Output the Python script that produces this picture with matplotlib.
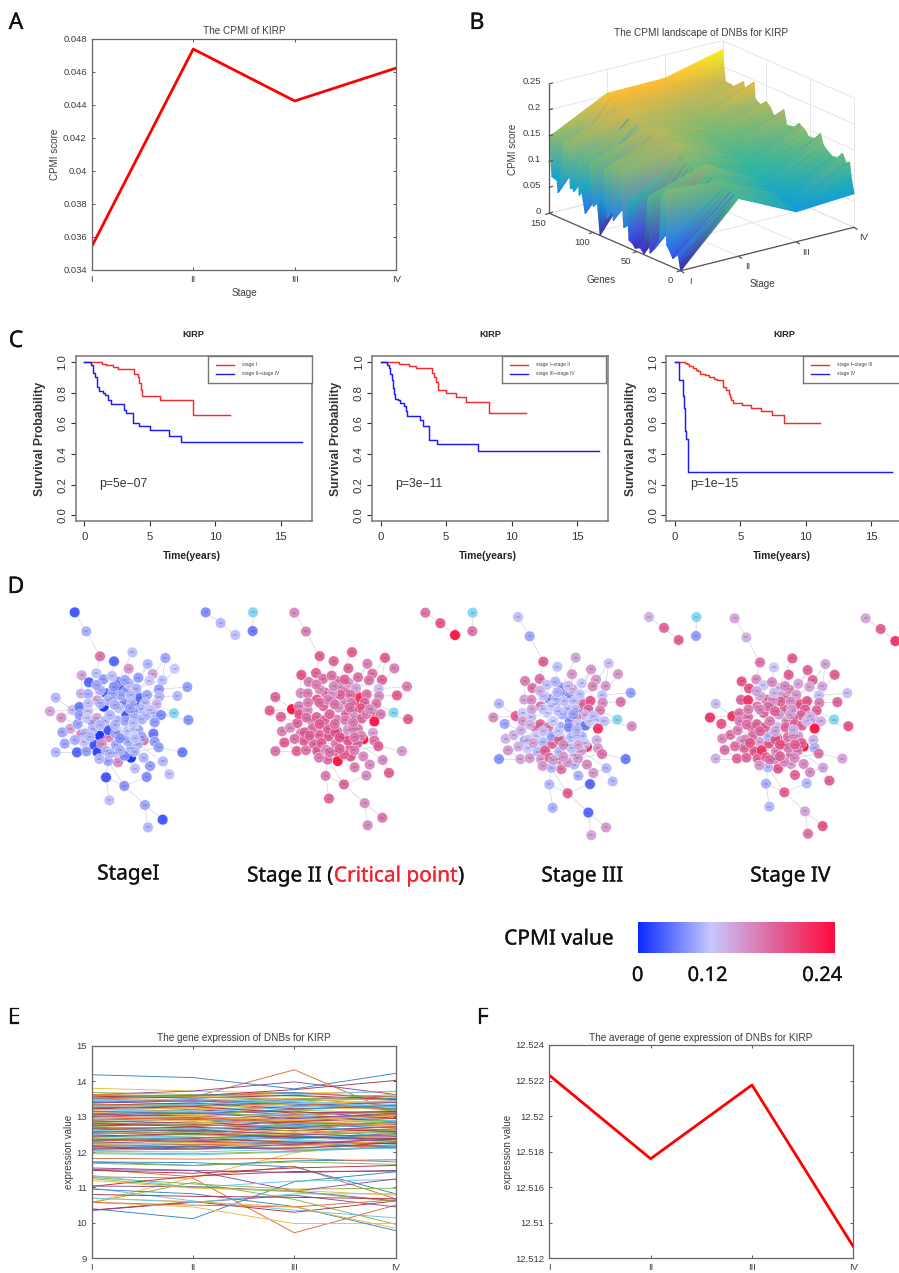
import numpy as np
import matplotlib
matplotlib.use('Agg')
import matplotlib.pyplot as plt
import matplotlib.patheffects as pe
from matplotlib.colors import LinearSegmentedColormap

W, H = 899, 1273
stage_labels = ['I', 'II', 'III', 'IV']

# panel A / F
cpmi_score = [0.0354, 0.04739, 0.04424, 0.04624]
avg_expr = [12.5223, 12.5176, 12.52175, 12.51266]
avg_ticks = [12.512, 12.514, 12.516, 12.518, 12.52, 12.522, 12.524]
avg_tick_labels = ['12.512', '12.51', '12.516', '12.518', '12.52', '12.522', '12.524']

# panel B, surface read along the gene axis
gene_pos = [0, 3, 5, 9, 13, 16, 17, 22, 24, 30, 35, 37, 38, 42, 46, 52, 55, 59, 61, 62, 65, 69, 70, 77, 79,
            80, 84, 87, 88, 92, 95, 100, 103, 105, 109, 113, 114, 116, 117, 122, 124, 126, 128, 132, 134,
            138, 140, 141, 147, 150]
land_I = [.000, .030, .025, .017, .030, .038, .143, .125, .042, .020, .008, .116, .100, .002, .010, .005, .012,
          .015, .085, .040, .035, .144, .120, .040, .146, .110, .040, .133, .060, .001, .060, .050, .131, .090,
          .030, .070, .072, .060, .128, .063, .070, .065, .148, .080, .146, .060, .047, .070, .073, .148]
land_II = [.112, .118, .115, .118, .120, .122, .131, .128, .120, .131, .118, .150, .148, .125, .130, .132, .135,
           .138, .150, .145, .145, .167, .165, .150, .165, .160, .150, .172, .165, .150, .174, .160, .172, .170,
           .160, .165, .168, .170, .172, .170, .172, .172, .185, .180, .188, .180, .182, .191, .195, .204]
land_III = [.058, .060, .062, .064, .066, .068, .070, .074, .076, .080, .084, .086, .086, .090, .094, .098, .100,
            .102, .104, .104, .108, .112, .112, .118, .120, .120, .124, .126, .126, .130, .132, .136, .140, .142,
            .146, .150, .150, .152, .153, .158, .160, .162, .164, .168, .172, .176, .180, .182, .195, .205]
land_IV = [.065, .092, .122, .118, .133, .115, .118, .120, .118, .125, .133, .145, .153, .140, .138, .137, .145,
           .150, .152, .155, .145, .142, .143, .141, .160, .168, .155, .152, .150, .149, .160, .169, .160, .158,
           .160, .166, .196, .175, .172, .170, .171, .188, .175, .172, .170, .170, .172, .172, .173, .232]
z_ticks = [0, 0.05, 0.1, 0.15, 0.2, 0.25]
z_tick_labels = ['0', '0.05', '0.1', '0.15', '0.2', '0.25']
gene_ticks = [0, 50, 100, 150]

# panel C, survival curves (time in years, survival probability)
c1_red_t = [0, 1.35, 1.65, 2.2, 2.6, 3.8, 4.1, 4.2, 4.3, 4.4, 5.75, 8.3, 11.1]
c1_red_s = [1, .99, .98, .97, .957, .92, .90, .86, .82, .78, .75, .655, .655]
c1_blue_t = [0, .5, .65, .7, .85, .95, 1.0, 1.1, 1.4, 1.6, 1.8, 2.0, 3.0, 3.2, 3.7, 4.2, 5.0, 6.5, 7.4, 16.6]
c1_blue_s = [1, .98, .97, .93, .90, .87, .84, .81, .80, .785, .75, .725, .69, .67, .60, .58, .555, .52, .48, .48]
c2_red_t = [0, 1.4, 1.7, 2.2, 2.7, 3.9, 4.1, 4.2, 4.4, 5.0, 5.72, 6.54, 8.27, 11.1]
c2_red_s = [1, .99, .985, .975, .96, .93, .90, .87, .815, .795, .77, .74, .67, .67]
c2_blue_t = [0, .5, .65, .7, .85, .95, 1.0, 1.1, 1.3, 1.5, 1.8, 1.9, 2.0, 3.0, 3.2, 3.7, 4.3, 7.4, 16.66]
c2_blue_s = [1, .98, .96, .92, .88, .83, .79, .76, .75, .73, .71, .68, .65, .62, .585, .49, .465, .42, .42]
c3_red_t = [0, .8, .9, 1.1, 1.4, 1.6, 1.8, 1.9, 2.3, 2.6, 3.0, 3.2, 3.7, 3.9, 4.1, 4.2, 4.3, 4.4, 5.1, 5.8, 6.6,
            7.4, 8.3, 11.1]
c3_red_s = [1, .995, .985, .975, .96, .95, .94, .92, .915, .905, .89, .88, .84, .82, .79, .77, .75, .73, .72, .70,
            .68, .655, .605, .605]
c3_blue_t = [0, .33, .65, .72, .78, .85, .97, 1.0, 16.6]
c3_blue_s = [1, .885, .78, .70, .55, .50, .33, .28, .28]
c_legends = [['stage I', 'stage II\u2212stage IV'], ['stage I\u2212stage II', 'stage III\u2212stage IV'],
             ['stage I\u2212stage III', 'stage IV']]
c_pvalues = ['p=5e\u221207', 'p=3e\u221211', 'p=1e\u221215']

# panel D, one row per node: x, y, CPMI at stage I, II, III, IV (-1 = the light blue node)
nodes = [
    [224, 67, .02, .17, .11, .15], [259, 124, .09, .18, .08, .14], [300, 199, .19, .21, .21, .19],
    [342, 214, .03, .20, .11, .12], [397, 187, .11, .21, .15, .21], [386, 236, .16, .20, .16, .21],
    [443, 222, .10, .18, .16, .20], [496, 204, .08, .21, .13, .15], [524, 236, .12, .18, .16, .21],
    [458, 252, .15, .19, .16, .20], [487, 271, .11, .20, .16, .15], [562, 291, .07, .18, .07, .13],
    [532, 318, .10, .21, .19, .20], [477, 298, .07, .13, .11, .11], [478, 320, .10, .17, .17, .18],
    [470, 343, .14, .19, .18, .20], [522, 370, -1, -1, -1, -1], [565, 390, .06, .21, .17, .22],
    [460, 370, .09, .18, .12, .15], [483, 375, .05, .18, .11, .14], [464, 397, .07, .24, .23, .24],
    [460, 431, .04, .15, .14, .14], [464, 455, .07, .19, .16, .09], [431, 451, .19, .24, .23, .24],
    [476, 472, .07, .21, .19, .19], [547, 487, .04, .16, .04, .15], [489, 514, .10, .17, .10, .15],
    [508, 553, .11, .21, .10, .21], [450, 528, .07, .17, .16, .17], [405, 536, .11, .18, .09, .20],
    [431, 503, .10, .17, .17, .17], [440, 561, .05, .17, .03, .10], [373, 588, .06, .20, .21, .21],
    [318, 562, .02, .18, .10, .09], [328, 631, .11, .20, .09, .10], [435, 645, .08, .17, .03, .15],
    [488, 689, .02, .19, .16, .22], [444, 712, .10, .17, .15, .19], [150, 364, .15, .21, .17, .23],
    [167, 323, .10, .20, .10, .13], [167, 487, .10, .19, .06, .14], [194, 461, .08, .21, .16, .19],
    [187, 427, .08, .18, .14, .17], [184, 383, .16, .20, .08, .22], [211, 416, .15, .17, .14, .19],
    [217, 360, .13, .24, .21, .23], [231, 487, .03, .20, .15, .20], [259, 484, .07, .19, .16, .20],
    [245, 256, .15, .22, .18, .22], [267, 277, .03, .18, .19, .22], [289, 250, .11, .20, .19, .17],
    [243, 311, .14, .17, .15, .20], [264, 312, .09, .18, .17, .23], [238, 351, .04, .18, .12, .19],
    [292, 331, .16, .22, .19, .19], [244, 433, .18, .18, .08, .16], [275, 393, .05, .18, .20, .20],
    [299, 437, .00, .20, .10, .15], [311, 350, .00, .20, .12, .20], [283, 465, .02, .20, .10, .22],
    [327, 442, .17, .22, .20, .22], [293, 487, .01, .21, .16, .20], [393, 503, .00, .22, .10, .16],
    [354, 517, .17, .24, .19, .22], [324, 513, .08, .19, .10, .10], [345, 488, .14, .20, .18, .18],
    [403, 344, .00, .24, .03, .10], [379, 375, .02, .20, .05, .17], [417, 323, .03, .23, .20, .22],
    [360, 292, .02, .19, .07, .16], [415, 263, .07, .19, .12, .15], [354, 275, .05, .18, .07, .13],
    [310, 268, .07, .19, .11, .12], [318, 310, .03, .20, .06, .19], [378, 304, .06, .18, .06, .17],
    [373, 340, .05, .17, .10, .20], [325, 420, .02, .20, .07, .10], [374, 446, .06, .20, .11, .22],
    [348, 465, .08, .18, .10, .17], [415, 420, .08, .18, .09, .16], [393, 475, .09, .20, .13, .20],
    [373, 497, .05, .21, .16, .17], [413, 463, .09, .20, .16, .18], [233, 402, .08, .20, .14, .18],
    [239, 375, .07, .22, .16, .18], [264, 363, .13, .17, .11, .19], [291, 384, .15, .20, .20, .20],
    [253, 455, .11, .21, .12, .20], [278, 418, .10, .19, .12, .19], [305, 462, .17, .21, .21, .23],
    [319, 483, .09, .17, .20, .21], [298, 507, .10, .18, .16, .16], [336, 258, .11, .19, .10, .17],
    [387, 280, .10, .16, .15, .18], [409, 296, .09, .15, .11, .16], [448, 272, .12, .19, .17, .15],
    [441, 315, .08, .19, .22, .22], [435, 340, .10, .20, .20, .21], [424, 357, .10, .22, .14, .20],
    [399, 366, .06, .22, .18, .22], [357, 355, .11, .16, .09, .16], [336, 325, .07, .17, .08, .16],
    [362, 316, .08, .20, .11, .20], [392, 316, .10, .19, .11, .17], [338, 310, .08, .16, .10, .17],
    [324, 331, .10, .18, .12, .19], [352, 392, .09, .18, .09, .13], [377, 393, .08, .18, .05, .20],
    [404, 383, .09, .16, .12, .20], [426, 388, .09, .20, .04, .20], [315, 393, .10, .20, .18, .21],
    [353, 428, .11, .20, .10, .21], [384, 422, .11, .16, .10, .19], [347, 430, .08, .22, .20, .22],
    [400, 417, .12, .18, .11, .17], [404, 485, .10, .18, .16, .17], [617, 67, .05, .19, .14, .15],
    [662, 99, .10, .22, .20, .21], [706, 135, .11, .24, .21, .23], [759, 67, -1, -1, -1, -1],
    [758, 123, .04, .19, .07, .07],
    [300, 300, .09, .17, .11, .15], [290, 285, .08, .18, .14, .15], [345, 345, .09, .19, .11, .20],
    [330, 375, .10, .20, .12, .18], [300, 405, .10, .21, .13, .20], [345, 405, .10, .19, .12, .15],
    [400, 400, .11, .18, .10, .14], [440, 375, .10, .18, .12, .13], [425, 440, .08, .17, .12, .20],
    [385, 455, .09, .21, .11, .18], [360, 445, .06, .22, .17, .22], [330, 490, .10, .19, .15, .19],
    [360, 480, .09, .20, .16, .20], [255, 430, .10, .20, .13, .17], [265, 340, .11, .18, .15, .18],
    [225, 450, .09, .19, .14, .19], [300, 340, .10, .19, .12, .17], [450, 360, .11, .17, .11, .14],
    [395, 340, .10, .18, .13, .16], [342, 290, .06, .17, .10, .13], [405, 445, .11, .19, .15, .21],
    [270, 440, .10, .21, .15, .22], [260, 385, .12, .19, .14, .19], [375, 270, .08, .20, .13, .17],
    [390, 355, .08, .19, .08, .15],
]
edge_from = [1, 2, 3, 4, 5, 6, 6, 7, 7, 8, 8, 9, 10, 11, 12, 13, 14, 15, 16, 17, 17, 18, 19, 20, 21, 22, 23, 24, 25,
             26, 27, 28, 29, 30, 31, 32, 32, 33, 33, 34, 36, 36, 34, 33, 39, 40, 41, 42, 42, 43, 44, 44, 45, 46, 47,
             48, 49, 49, 50, 51, 52, 53, 54, 54, 55, 55, 56, 56, 57, 57, 58, 58, 59, 60, 61, 61, 62, 63, 64, 64, 66,
             67, 68, 69, 70, 71, 72, 73, 74, 75, 76, 77, 78, 79, 84, 85, 86, 87, 111, 107, 108, 109, 110, 100, 67,
             99, 98, 97, 104, 103, 102, 106, 59, 105, 105, 75, 75, 94, 95, 70, 70, 72, 93, 51, 53, 52, 86, 89, 77,
             77, 112, 113, 115, 80, 112, 113, 107, 87, 84, 88, 60, 90, 90, 91, 91, 92, 66, 82, 81, 83, 31, 63, 43,
             45, 56, 88, 84, 46, 85, 86, 87, 111, 111, 101, 101, 68, 68, 108, 107, 107, 109, 110, 80, 78, 79, 79,
             114, 61, 91, 92, 66, 64, 65, 48, 48, 47, 100, 100, 99, 98, 16, 19, 19, 15, 14, 96, 71, 72, 93, 70, 74,
             106, 106, 102, 104, 103, 75, 69, 69, 117, 118, 120, 122, 122, 123, 124, 124, 125, 125, 126, 126, 127,
             127, 128, 128, 129, 129, 130, 130, 131, 131, 132, 132, 133, 133, 134, 134, 135, 135, 136, 136, 137, 137,
             138, 138, 139, 139, 140, 140, 141, 141, 142, 142, 143, 143, 144, 144, 145, 145, 146, 146]
edge_to = [2, 3, 51, 93, 72, 70, 94, 71, 95, 11, 96, 14, 96, 95, 14, 15, 97, 98, 99, 16, 20, 20, 100, 110, 110, 83, 83,
           81, 116, 25, 83, 27, 27, 82, 81, 29, 33, 34, 36, 35, 37, 38, 65, 65, 46, 46, 47, 47, 88, 45, 84, 46, 84,
           85, 48, 88, 50, 52, 73, 93, 53, 74, 85, 86, 74, 59, 88, 84, 86, 89, 89, 60, 76, 62, 58, 79, 65, 82, 65,
           66, 79, 76, 108, 104, 72, 104, 73, 74, 102, 103, 101, 111, 81, 78, 85, 86, 87, 111, 107, 108, 109, 110,
           100, 67, 99, 98, 97, 69, 103, 102, 106, 59, 101, 74, 103, 104, 94, 95, 97, 75, 73, 93, 51, 50, 55, 55,
           89, 77, 58, 112, 113, 78, 80, 113, 115, 108, 112, 89, 89, 89, 90, 61, 62, 66, 92, 65, 82, 63, 116, 116,
           116, 116, 84, 56, 58, 60, 87, 84, 87, 59, 77, 77, 59, 76, 68, 76, 109, 112, 77, 113, 115, 80, 78, 83, 90,
           112, 61, 112, 79, 62, 64, 82, 62, 60, 62, 88, 68, 109, 110, 110, 100, 110, 16, 97, 96, 95, 94, 105, 73,
           105, 59, 55, 76, 103, 76, 76, 103, 67, 98, 118, 119, 121, 74, 123, 50, 76, 101, 111, 107, 87, 77, 107,
           113, 109, 80, 19, 110, 83, 80, 78, 81, 78, 79, 66, 91, 81, 79, 88, 56, 86, 53, 45, 48, 59, 106, 16, 99,
           67, 76, 72, 122, 83, 80, 60, 89, 86, 57, 72, 94, 100, 68]
d_titles = ['StageI', 'Stage III', 'Stage IV']
cb_tick_labels = ['0', '0.12', '0.24']

# panel E, gene expression per stage, one row per gene
expr_rows = [
    [14.18, 14.10, 13.78, 14.22], [13.50, 13.55, 14.32, 13.10], [13.80, 13.72, 13.66, 13.70], [13.62, 13.72, 13.98, 13.62],
    [13.68, 13.62, 13.58, 13.45], [13.60, 13.52, 13.62, 13.72], [13.55, 13.58, 13.76, 14.02],
    [10.40, 10.12, 11.16, 11.44], [11.30, 11.26, 9.72, 10.50], [10.58, 11.28, 11.98, 12.34], [10.35, 10.58, 10.78, 10.45],
    [10.57, 11.14, 10.66, 9.96], [10.98, 10.62, 10.36, 10.14], [10.36, 10.60, 10.30, 10.62],
    [11.72, 11.70, 11.58, 10.82], [11.52, 11.30, 11.60, 10.68], [10.58, 10.45, 9.98, 9.98], [11.50, 11.48, 10.90, 10.62],
    [11.28, 11.10, 10.95, 10.98], [11.34, 11.00, 11.18, 11.22], [11.03, 11.32, 11.45, 11.46],
    [10.95, 10.82, 10.46, 9.78], [10.58, 10.50, 10.45, 10.65], [10.70, 10.60, 10.45, 9.85], [11.04, 11.02, 10.90, 11.24],
    [11.25, 11.00, 10.88, 10.60], [10.70, 10.58, 10.82, 10.82], [10.80, 10.75, 10.72, 10.68],
    [11.72, 11.62, 11.75, 11.78], [11.82, 11.80, 11.82, 11.72], [11.20, 10.98, 10.92, 10.78], [11.55, 11.48, 11.42, 11.48],
    [11.68, 11.62, 11.72, 11.65], [11.95, 11.92, 12.00, 12.15], [11.48, 11.40, 11.55, 11.62],
    [12.05, 12.08, 12.12, 12.20], [12.82, 12.75, 12.95, 13.02], [12.45, 12.40, 12.50, 12.62], [12.10, 12.18, 12.05, 12.12],
    [11.98, 11.95, 12.02, 12.18], [12.32, 12.36, 12.30, 12.42], [13.05, 13.02, 12.88, 13.00],
    [13.40, 13.48, 13.35, 13.18], [13.22, 13.15, 13.28, 13.40], [12.62, 12.72, 12.58, 12.70], [13.28, 13.20, 13.05, 13.15],
    [12.20, 12.28, 12.44, 12.38], [13.10, 13.18, 13.30, 13.42], [12.92, 12.98, 12.82, 12.78],
    [12.70, 12.62, 12.76, 12.55], [13.50, 13.42, 13.52, 13.30], [12.28, 12.22, 12.35, 12.50], [12.50, 12.58, 12.42, 12.35],
    [13.35, 13.30, 13.44, 13.52], [12.88, 12.80, 12.92, 13.08], [12.36, 12.30, 12.25, 12.36],
    [13.08, 13.12, 13.00, 12.85], [12.58, 12.52, 12.68, 12.80], [13.18, 13.25, 13.12, 13.05], [12.78, 12.85, 12.70, 12.62],
    [12.12, 12.10, 12.20, 12.28], [13.48, 13.40, 13.28, 13.45], [12.66, 12.70, 12.60, 12.72],
    [12.42, 12.50, 12.38, 12.48], [12.98, 12.90, 13.05, 13.12], [13.62, 13.58, 13.50, 13.38], [13.00, 13.08, 13.15, 12.95],
    [12.72, 12.65, 12.80, 12.90], [12.24, 12.20, 12.32, 12.22], [13.32, 13.38, 13.22, 13.30],
    [12.85, 12.92, 12.78, 12.68], [12.15, 12.22, 12.18, 12.30], [13.12, 13.05, 13.20, 13.25], [13.42, 13.35, 13.48, 13.58],
    [12.55, 12.48, 12.62, 12.45], [12.95, 13.02, 13.08, 12.88], [12.30, 12.38, 12.28, 12.24],
    [13.25, 13.30, 13.40, 13.22], [12.68, 12.60, 12.52, 12.66], [12.38, 12.45, 12.55, 12.40], [12.88, 12.82, 12.98, 13.05],
    [13.15, 13.10, 13.02, 13.18], [12.60, 12.66, 12.72, 12.58], [13.58, 13.52, 13.60, 13.48],
    [12.18, 12.15, 12.26, 12.14], [13.02, 12.95, 12.85, 13.08], [12.76, 12.82, 12.90, 12.75], [12.25, 12.32, 12.40, 12.52],
    [13.30, 13.35, 13.18, 13.10], [12.48, 12.42, 12.36, 12.55], [12.80, 12.72, 12.86, 12.95],
    [13.52, 13.60, 13.68, 13.50], [12.35, 12.28, 12.22, 12.12], [12.92, 12.88, 13.00, 12.82], [13.38, 13.45, 13.32, 13.40],
    [12.52, 12.56, 12.46, 12.60], [13.20, 13.12, 13.26, 13.34], [12.08, 12.14, 12.10, 12.26],
    [12.65, 12.58, 12.70, 12.84], [13.35, 13.28, 13.38, 13.20], [12.22, 12.26, 12.16, 12.32], [13.05, 13.10, 12.94, 13.10],
    [12.40, 12.34, 12.48, 12.56], [13.45, 13.50, 13.42, 13.28], [12.74, 12.78, 12.66, 12.58],
    [13.15, 13.08, 13.20, 13.32], [12.90, 12.96, 12.84, 12.72], [13.30, 13.22, 13.36, 13.44], [12.56, 12.62, 12.50, 12.44],
    [13.60, 13.55, 13.48, 13.62], [12.02, 12.00, 12.08, 12.10], [13.22, 13.28, 13.10, 13.14],
    [12.34, 12.40, 12.46, 12.30], [13.62, 13.58, 13.66, 13.55], [12.96, 13.00, 12.90, 13.02], [12.15, 12.08, 12.22, 12.36],
    [12.84, 12.76, 12.74, 12.86], [13.28, 13.34, 13.46, 13.26], [12.45, 12.52, 12.42, 12.38],
]
matlab_colors = ['#2f86c5', '#dd6a38', '#eeb93c', '#8a4a98', '#85b445', '#63c6f0', '#ae2f45']

plt.rcParams['font.family'] = ['Liberation Sans', 'DejaVu Sans']
TXT = '#3c3c3c'
HEAD = ['Noto Sans', 'DejaVu Sans']
HEAVY = [pe.withStroke(linewidth=.18, foreground='#111111')]

fig = plt.figure(figsize=(W / 100, H / 100), dpi=100)


def axes_px(left, top, right, bottom):
    return fig.add_axes([left / W, 1 - bottom / H, (right - left) / W, (bottom - top) / H])


# whole-figure axes in pixels, for the network, the landscape and free text
ov = fig.add_axes([0, 0, 1, 1])
ov.set_axis_off()
ov.set_xlim(0, W)
ov.set_ylim(H, 0)
ov.set_autoscale_on(False)


def matlab_axes(left, top, right, bottom):
    ax = axes_px(left, top, right, bottom)
    ax.set_xlim(1, 4)
    ax.set_xticks([1, 2, 3, 4])
    ax.set_xticklabels(stage_labels)
    ax.tick_params(direction='in', top=True, right=True, length=2.2, width=.6, labelsize=6.8, colors=TXT, pad=3.5)
    for sp in ax.spines.values():
        sp.set_color('#666666')
        sp.set_linewidth(.9)
    return ax


# A
ax = matlab_axes(91.7, 39, 396.3, 269.7)
ax.plot([1, 2, 3, 4], cpmi_score, color='#ff0000', lw=2.0)
ax.set_ylim(0.034, 0.048)
ax.set_yticks([0.034, 0.036, 0.038, 0.04, 0.042, 0.044, 0.046, 0.048])
ax.set_yticklabels(['0.034', '0.036', '0.038', '0.04', '0.042', '0.044', '0.046', '0.048'])
ov.text(244.3, 31, 'The CPMI of KIRP', ha='center', va='center', fontsize=7.2, color=TXT)
ov.text(55, 154.7, 'CPMI score', ha='center', va='center', rotation=90, fontsize=7.1, color=TXT)
ov.text(244, 293, 'Stage', ha='center', va='center', fontsize=7.1, color=TXT)

# B, orthographic projection onto the page
B_ORIGIN = (680.7, 270.7)
B_GENE = (-131.4, -57.4)
B_STAGE = (173.3, -43.4)
B_Z = 129.3


def proj(g, s, z):
    g = np.asarray(g, float)
    s = np.asarray(s, float)
    z = np.asarray(z, float)
    x = B_ORIGIN[0] + g / 150 * B_GENE[0] + (s - 1) / 3 * B_STAGE[0]
    y = B_ORIGIN[1] + g / 150 * B_GENE[1] + (s - 1) / 3 * B_STAGE[1] - z / .25 * B_Z
    return x, y


def seg3d(p, q, **kw):
    x0, y0 = proj(*p)
    x1, y1 = proj(*q)
    ov.plot([x0, x1], [y0, y1], solid_capstyle='butt', **kw)


grid_kw = dict(color='#e2e2e2', lw=.6, zorder=1)
for z in z_ticks:
    seg3d((150, 1, z), (150, 4, z), **grid_kw)
    seg3d((0, 4, z), (150, 4, z), **grid_kw)
for s in [1, 2, 3, 4]:
    seg3d((150, s, 0), (150, s, .25), **grid_kw)
    seg3d((0, s, 0), (150, s, 0), **grid_kw)
for g in gene_ticks:
    seg3d((g, 4, 0), (g, 4, .25), **grid_kw)
    seg3d((g, 1, 0), (g, 4, 0), **grid_kw)

parula = LinearSegmentedColormap.from_list('parula', [
    (0.0, '#3e26a8'), (0.05, '#3a40e8'), (0.14, '#2a78f0'), (0.26, '#10a0d8'), (0.40, '#28b4a8'),
    (0.56, '#70b97a'), (0.70, '#b5b860'), (0.82, '#f5b93a'), (0.92, '#fbd52c'), (1.0, '#f9fb15')])
land = np.array([land_I, land_II, land_III, land_IV]).T
gg, ss = np.meshgrid(gene_pos, [1, 2, 3, 4], indexing='ij')
bx, by = proj(gg, ss, land)
tris = []
for i in range(len(gene_pos) - 2, -1, -1):
    for j in [2, 1, 0]:
        a, b, c, d = i * 4 + j, i * 4 + j + 1, (i + 1) * 4 + j + 1, (i + 1) * 4 + j
        tris.append([a, b, c])
        tris.append([a, c, d])
ov.tripcolor(bx.ravel(), by.ravel(), np.array(tris), land.ravel(), shading='gouraud', cmap=parula,
             vmin=0, vmax=.24, zorder=2)

ax_kw = dict(color='#555555', lw=.9, zorder=3)
seg3d((150, 1, 0), (150, 1, .25), **ax_kw)
seg3d((0, 1, 0), (150, 1, 0), **ax_kw)
seg3d((0, 1, 0), (0, 4, 0), **ax_kw)
for z, lab in zip(z_ticks, z_tick_labels):
    x, y = proj(150, 1, z)
    ov.plot([x, x + 3], [y, y - 1], **ax_kw)
    ov.text(x - 8.5, y - 2, lab, ha='right', va='center', fontsize=6.8, color=TXT)
for g in gene_ticks:
    x, y = proj(g, 1, 0)
    ov.plot([x, x - 3.5], [y, y + 1], **ax_kw)
    ov.text(x - 10.7, y + 10, str(g), ha='center', va='center', fontsize=6.8, color=TXT)
for s, lab in zip([1, 2, 3, 4], stage_labels):
    x, y = proj(0, s, 0)
    ov.plot([x, x + 3], [y, y + 2], **ax_kw)
    ov.text(x + 9.5, y + 10.7, lab, ha='center', va='center', fontsize=6.8, color=TXT)
ov.text(701.3, 33, 'The CPMI landscape of DNBs for KIRP', ha='center', va='center', fontsize=7.2, color=TXT)
ov.text(512.7, 149, 'CPMI score', ha='center', va='center', rotation=90, fontsize=7.1, color=TXT)
ov.text(600.7, 280, 'Genes', ha='center', va='center', fontsize=7.1, color=TXT)
ov.text(762.7, 284, 'Stage', ha='center', va='center', fontsize=7.1, color=TXT)

# C
c_left = [75.7, 372, 666.3]
c_width = 236
curves = [(c1_red_t, c1_red_s, c1_blue_t, c1_blue_s), (c2_red_t, c2_red_s, c2_blue_t, c2_blue_s),
          (c3_red_t, c3_red_s, c3_blue_t, c3_blue_s)]
legend_left = [208, 502.3, 803.3]
for k in range(3):
    ax = axes_px(c_left[k], 355.7, c_left[k] + c_width, 521)
    rt, rs, bt, bs = curves[k]
    ax.step(rt, rs, where='post', color='#f52a2a', lw=1.05)
    ax.step(bt, bs, where='post', color='#1a1aff', lw=1.05)
    ax.set_xlim(-0.656, 17.35)
    ax.set_ylim(-0.037, 1.041)
    ax.set_xticks([0, 5, 10, 15])
    ax.set_yticks([0, .2, .4, .6, .8, 1.0])
    ax.set_yticklabels(['0.0', '0.2', '0.4', '0.6', '0.8', '1.0'], rotation=90, va='center')
    ax.tick_params(length=3.4, width=.8, labelsize=8.2, colors='#333333', pad=2.5)
    ax.tick_params(axis='x', pad=4.5)
    for sp in ax.spines.values():
        sp.set_color('#777777')
        sp.set_linewidth(1.1)
    ax.text(1.14, .204, c_pvalues[k], ha='left', va='center', fontsize=8.8, color='#333333')
    mid = c_left[k] + c_width / 2
    ov.text(mid, 334.7, 'KIRP', ha='center', va='center', fontsize=6.6, fontweight='bold', color='#222222')
    ov.text(mid - 2, 556, 'Time(years)', ha='center', va='center', fontsize=7.4, fontweight='bold', color='#222222')
    ov.text(c_left[k] - 35.7, 439, 'Survival Probability', ha='center', va='center', rotation=90, fontsize=8.7,
            fontweight='bold', color='#333333')
    # legend box, drawn on top of the curves panel
    lax = fig.add_axes([legend_left[k] / W, 1 - 382.7 / H, 104 / W, 27 / H])
    lax.set_xlim(0, 104)
    lax.set_ylim(27, 0)
    lax.set_xticks([])
    lax.set_yticks([])
    for sp in lax.spines.values():
        sp.set_color('#777777')
        sp.set_linewidth(1.0)
    lax.plot([8, 26], [9, 9], color='#f52a2a', lw=1.0)
    lax.plot([8, 26], [18, 18], color='#1a1aff', lw=1.0)
    lax.text(34, 9, c_legends[k][0], va='center', fontsize=3.5, color='#444444')
    lax.text(34, 18, c_legends[k][1], va='center', fontsize=3.5, color='#444444')

# D
cpmi_cmap = LinearSegmentedColormap.from_list('cpmi', [
    (0.0, '#0a2bff'), (0.37, '#c8c8ff'), (0.7, '#e0629a'), (1.0, '#ff0a3c')])
nd = np.array(nodes, float)
panel_dx = [0, 659, 1330, 1980]
panel_y0 = [67, 68, 81, 85]
panel_sy = [1.0, .989, 1.015, 1.002]
for k in range(4):
    nx = (nd[:, 0] + panel_dx[k]) / 3
    ny = (panel_y0[k] + (nd[:, 1] - 67) * panel_sy[k]) / 3 + 590
    vals = nd[:, 2 + k]
    for a, b in zip(edge_from, edge_to):
        ov.plot([nx[a - 1], nx[b - 1]], [ny[a - 1], ny[b - 1]], color='#d4d4d4', lw=.5, zorder=2)
    cols = [cpmi_cmap(np.interp(v, [0, .05, .12, .2, .22, .24], [0, .22, .37, .7, .76, 1])) if v >= 0 else '#80d4f5'
            for v in vals]
    ov.scatter(nx, ny, s=58, c=cols, edgecolors='white', linewidths=.3, alpha=.93, zorder=3)
    ov.scatter(nx, ny, s=5, marker='_', color='#555555', linewidths=.35, zorder=4)

ov.text(128.5, 874, d_titles[0], ha='center', va='center', fontsize=15, family=HEAD, color='#111111', path_effects=HEAVY)
ov.text(582.5, 876, d_titles[1], ha='center', va='center', fontsize=15, family=HEAD, color='#111111', path_effects=HEAVY)
ov.text(790.5, 876, d_titles[2], ha='center', va='center', fontsize=15, family=HEAD, color='#111111', path_effects=HEAVY)
fig.canvas.draw()
rend = fig.canvas.get_renderer()
xpos = 247
for part, col in [('Stage II (', '#111111'), ('Critical point', '#f5222d'), (')', '#111111')]:
    t = ov.text(xpos, 876, part, ha='left', va='center', fontsize=15, family=HEAD, color=col,
                path_effects=[pe.withStroke(linewidth=.18, foreground=col)])
    xpos = t.get_window_extent(rend).x1
ov.text(559, 939, 'CPMI value', ha='center', va='center', fontsize=15, family=HEAD, color='#111111', path_effects=HEAVY)
cb = axes_px(638.3, 922.3, 835, 952.7)
cb.imshow(np.linspace(0, 1, 256)[None, :], aspect='auto', cmap=cpmi_cmap, vmin=0, vmax=1)
cb.set_axis_off()
for x, lab in zip([637.7, 707.7, 822.3], cb_tick_labels):
    ov.text(x, 976, lab, ha='center', va='center', fontsize=14.5, family=HEAD, color='#111111', path_effects=HEAVY)

# E
ax = matlab_axes(91.7, 1045.7, 395.7, 1258.3)
for i, row in enumerate(expr_rows):
    ax.plot([1, 2, 3, 4], row, color=matlab_colors[i % 7], lw=.65)
ax.set_ylim(9, 15)
ax.set_yticks([9, 10, 11, 12, 13, 14, 15])
ov.text(244, 1037.7, 'The gene expression of DNBs for KIRP', ha='center', va='center', fontsize=7.2, color=TXT)
ov.text(69, 1151.7, 'expression value', ha='center', va='center', rotation=90, fontsize=7.1, color=TXT)

# F
ax = matlab_axes(549.3, 1045, 853.3, 1258.3)
ax.plot([1, 2, 3, 4], avg_expr, color='#ff0000', lw=2.0)
ax.set_ylim(12.512, 12.524)
ax.set_yticks(avg_ticks)
ax.set_yticklabels(avg_tick_labels)
ov.text(700.7, 1037.7, 'The average of gene expression of DNBs for KIRP', ha='center', va='center', fontsize=7.2, color=TXT)
ov.text(508.3, 1151.7, 'expression value', ha='center', va='center', rotation=90, fontsize=7.1, color=TXT)

# panel letters
for lab, x, y in [('A', 16, 23), ('B', 477, 23), ('C', 16, 341), ('D', 16, 587), ('E', 14, 1018), ('F', 483, 1018)]:
    ov.text(x, y, lab, ha='center', va='center', fontsize=16.5, family=HEAD, color='#111111', path_effects=HEAVY)

fig.savefig('out.png', dpi=100)
